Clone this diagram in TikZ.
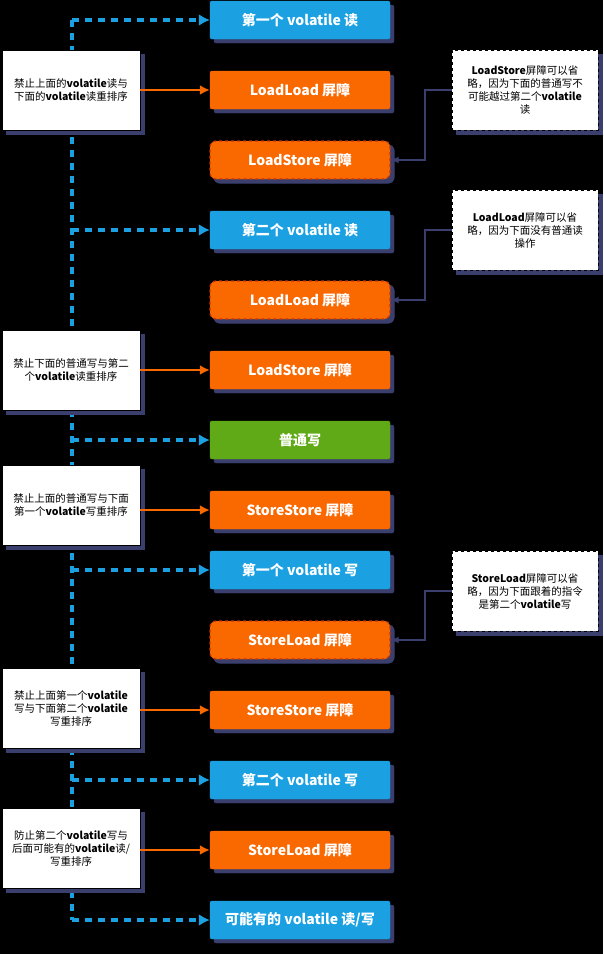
\documentclass[tikz,border=0pt]{standalone}
\usepackage{fontspec}
\setmainfont{Liberation Sans}
\newfontfamily\cjk{Noto Sans CJK SC}
\usetikzlibrary{arrows.meta}
\definecolor{vblue}{HTML}{1BA1E2}
\definecolor{vorange}{HTML}{FA6800}
\definecolor{vgreen}{HTML}{60A917}
\definecolor{vshadow}{HTML}{3A3F6E}
\definecolor{vred}{HTML}{C73500}
\tikzset{
 bx/.style={minimum width=180pt,minimum height=38pt,inner sep=0pt,text=white,font=\cjk\bfseries\fontsize{14}{16}\selectfont,
   rounded corners=2pt},
 shad/.style={preaction={fill=vshadow,draw=vshadow,solid,transform canvas={shift={(4pt,-4pt)}}}},
 bbox/.style={bx,shad,fill=vblue,draw=vblue},
 obox/.style={bx,shad,fill=vorange,draw=vorange},
 gbox/.style={bx,shad,fill=vgreen,draw=vgreen},
 dbox/.style={bx,shad,fill=vorange,draw=vred,dashed,line width=1.2pt,rounded corners=6pt},
 lnote/.style={shad,fill=white,draw=black,minimum width=138pt,minimum height=80pt,align=center,inner sep=3pt,
   font=\cjk\fontsize{10.5}{13}\selectfont},
 rnote/.style={shad,fill=white,draw=black,dashed,minimum width=146pt,minimum height=80pt,align=center,inner sep=3pt,
   font=\cjk\fontsize{10.5}{13}\selectfont},
 barr/.style={draw=vblue,line width=4pt,dash pattern=on 7pt off 6pt,-{Latex[length=11pt,width=12pt]}},
 oarr/.style={draw=vorange,line width=2.5pt,-{Latex[length=10pt,width=10pt]}},
 narr/.style={draw=vshadow,line width=2.5pt,-{Latex[length=8pt,width=7pt]}},
}
\begin{document}
\begin{tikzpicture}[x=1pt,y=-1pt]
\fill[black] (0,0) rectangle (603,954);
\useasboundingbox (0,0) rectangle (603,954);
\node[bbox] (b1) at (300,20) {第一个 volatile 读};
\node[obox] (b2) at (300,90) {LoadLoad 屏障};
\node[dbox] (b3) at (300,160) {LoadStore 屏障};
\node[bbox] (b4) at (300,230) {第二个 volatile 读};
\node[dbox] (b5) at (300,300) {LoadLoad 屏障};
\node[obox] (b6) at (300,370) {LoadStore 屏障};
\node[gbox] (b7) at (300,440) {普通写};
\node[obox] (b8) at (300,510) {StoreStore 屏障};
\node[bbox] (b9) at (300,570) {第一个 volatile 写};
\node[dbox] (b10) at (300,640) {StoreLoad 屏障};
\node[obox] (b11) at (300,710) {StoreStore 屏障};
\node[bbox] (b12) at (300,780) {第二个 volatile 写};
\node[obox] (b13) at (300,850) {StoreLoad 屏障};
\node[bbox] (b14) at (300,920) {可能有的 volatile 读/写};
% spine
\coordinate (top) at (72,20);
\coordinate (bot) at (72,920);
\draw[draw=vblue,line width=4pt,dash pattern=on 7pt off 6pt] (top) -- (bot);
\foreach \n/\y in {b1/20,b4/230,b7/440,b9/570,b12/780,b14/920}{
  \coordinate (s\n) at (72,\y);
  \draw[barr] (s\n) -- (\n.west);
}
% left notes
\node[lnote] (l1) at (71,90) {禁止上面的\textbf{volatile}读与\\下面的\textbf{volatile}读重排序};
\node[lnote] (l2) at (71,370) {禁止下面的普通写与第二\\个\textbf{volatile}读重排序};
\node[lnote] (l3) at (71,505) {禁止上面的普通写与下面\\第一个\textbf{volatile}写重排序};
\node[lnote] (l4) at (71,708) {禁止上面第一个\textbf{volatile}\\写与下面第二个\textbf{volatile}\\写重排序};
\node[lnote] (l5) at (71,848) {防止第二个\textbf{volatile}写与\\后面可能有的\textbf{volatile}读/\\写重排序};
\draw[oarr] (l1.east) -- (b2.west);
\draw[oarr] (l2.east) -- (b6.west);
\draw[oarr] (l3.east|-b8) -- (b8.west);
\draw[oarr] (l4.east|-b11) -- (b11.west);
\draw[oarr] (l5.east|-b13) -- (b13.west);
% right notes
\node[rnote] (r1) at (525,90) {\textbf{LoadStore}屏障可以省\\略，因为下面的普通写不\\可能越过第二个\textbf{volatile}\\读};
\node[rnote] (r2) at (525,230) {\textbf{LoadLoad}屏障可以省\\略，因为下面没有普通读\\操作};
\node[rnote] (r3) at (525,591) {\textbf{StoreLoad}屏障可以省\\略，因为下面跟着的指令\\是第二个\textbf{volatile}写};
\draw[narr] (r1.west) -- ++(-27,0) |- (b3.east);
\draw[narr] (r2.west) -- ++(-27,0) |- (b5.east);
\draw[narr] (r3.west) -- ++(-27,0) |- (b10.east);
\end{tikzpicture}
\end{document}
